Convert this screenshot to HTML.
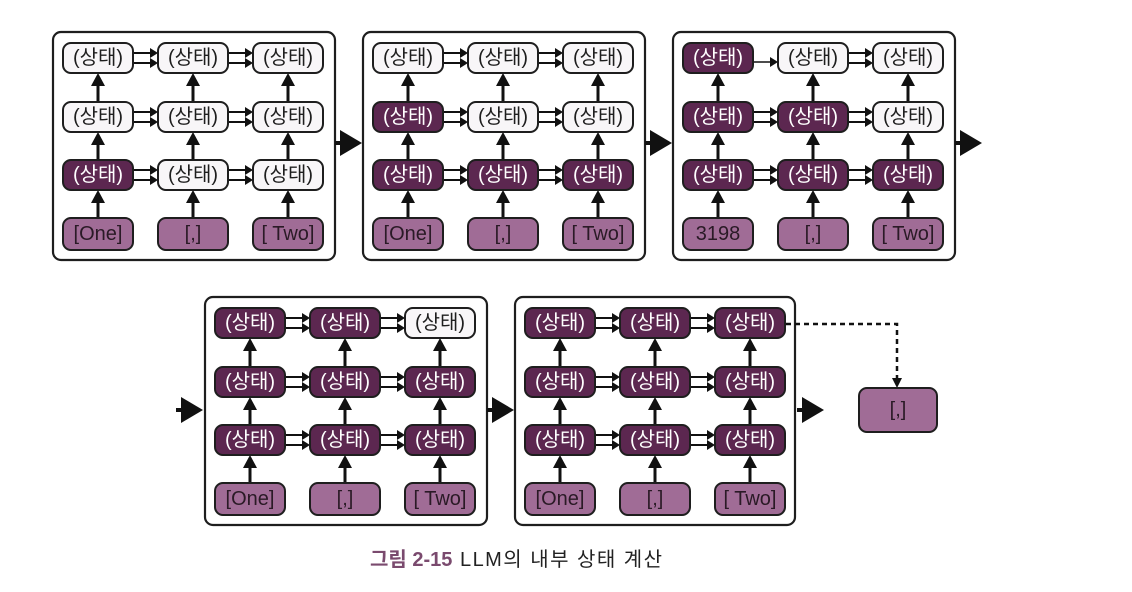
<!DOCTYPE html>
<html><head><meta charset="utf-8"><style>
html,body{margin:0;padding:0;background:#fff;}
svg{display:block;}
text{font-family:"Liberation Sans","Noto Sans CJK KR",sans-serif;}
.d{fill:#5c2750;stroke:#1e1e1e;stroke-width:2;}
.w{fill:#f8f6f8;stroke:#1e1e1e;stroke-width:2;}
.i{fill:#a06c96;stroke:#1e1e1e;stroke-width:2;}
.td{fill:#fff;font-size:20px;text-anchor:middle;dominant-baseline:central;}
.tw{fill:#1e1e1e;font-size:20px;text-anchor:middle;dominant-baseline:central;}
.ti{fill:#2a1a26;font-size:20px;text-anchor:middle;dominant-baseline:central;}
.pan{fill:#fff;stroke:#1e1e1e;stroke-width:2.2;}
</style></head><body>
<svg width="1132" height="592" viewBox="0 0 1132 592" xmlns="http://www.w3.org/2000/svg">
<defs>
<g id="v"><line x1="0" y1="29" x2="0" y2="10" stroke="#111" stroke-width="3"/><polygon points="-7,13 7,13 0,0" fill="#111"/></g>
<g id="h"><line x1="0" y1="-5" x2="20" y2="-5" stroke="#111" stroke-width="2"/><line x1="0" y1="5" x2="20" y2="5" stroke="#111" stroke-width="2"/><polygon points="17,-10 25,-5 17,0" fill="#111"/><polygon points="17,0 25,5 17,10" fill="#111"/></g>
<g id="hs"><line x1="0" y1="0" x2="18" y2="0" stroke="#111" stroke-width="1.6"/><polygon points="17,-5 25,0 17,5" fill="#111"/></g>
<g id="conn">
<use href="#v" x="45" y="41"/><use href="#v" x="140" y="41"/><use href="#v" x="235" y="41"/>
<use href="#v" x="45" y="100"/><use href="#v" x="140" y="100"/><use href="#v" x="235" y="100"/>
<use href="#v" x="45" y="158"/><use href="#v" x="140" y="158"/><use href="#v" x="235" y="158"/>
<use href="#h" x="80" y="85"/><use href="#h" x="175" y="85"/>
<use href="#h" x="80" y="143"/><use href="#h" x="175" y="143"/>
</g>
<g id="big"><line x1="0" y1="0" x2="8" y2="0" stroke="#111" stroke-width="4"/><polygon points="5,-13 27,0 5,13" fill="#111"/></g>
</defs>

<g transform="translate(53,32)">
<rect class="pan" x="0" y="0" width="282" height="228" rx="8"/>
<use href="#conn"/><use href="#h" x="80" y="26"/><use href="#h" x="175" y="26"/>
<rect class="w" x="10" y="11" width="70" height="30" rx="8"/><text class="tw" x="45" y="26">(상태)</text>
<rect class="w" x="105" y="11" width="70" height="30" rx="8"/><text class="tw" x="140" y="26">(상태)</text>
<rect class="w" x="200" y="11" width="70" height="30" rx="8"/><text class="tw" x="235" y="26">(상태)</text>
<rect class="w" x="10" y="70" width="70" height="30" rx="8"/><text class="tw" x="45" y="85">(상태)</text>
<rect class="w" x="105" y="70" width="70" height="30" rx="8"/><text class="tw" x="140" y="85">(상태)</text>
<rect class="w" x="200" y="70" width="70" height="30" rx="8"/><text class="tw" x="235" y="85">(상태)</text>
<rect class="d" x="10" y="128" width="70" height="30" rx="8"/><text class="td" x="45" y="143">(상태)</text>
<rect class="w" x="105" y="128" width="70" height="30" rx="8"/><text class="tw" x="140" y="143">(상태)</text>
<rect class="w" x="200" y="128" width="70" height="30" rx="8"/><text class="tw" x="235" y="143">(상태)</text>
<rect class="i" x="10" y="186" width="70" height="32" rx="8"/><text class="ti" x="45" y="202">[One]</text>
<rect class="i" x="105" y="186" width="70" height="32" rx="8"/><text class="ti" x="140" y="202">[,]</text>
<rect class="i" x="200" y="186" width="70" height="32" rx="8"/><text class="ti" x="235" y="202">[ Two]</text>
</g>

<g transform="translate(363,32)">
<rect class="pan" x="0" y="0" width="282" height="228" rx="8"/>
<use href="#conn"/><use href="#h" x="80" y="26"/><use href="#h" x="175" y="26"/>
<rect class="w" x="10" y="11" width="70" height="30" rx="8"/><text class="tw" x="45" y="26">(상태)</text>
<rect class="w" x="105" y="11" width="70" height="30" rx="8"/><text class="tw" x="140" y="26">(상태)</text>
<rect class="w" x="200" y="11" width="70" height="30" rx="8"/><text class="tw" x="235" y="26">(상태)</text>
<rect class="d" x="10" y="70" width="70" height="30" rx="8"/><text class="td" x="45" y="85">(상태)</text>
<rect class="w" x="105" y="70" width="70" height="30" rx="8"/><text class="tw" x="140" y="85">(상태)</text>
<rect class="w" x="200" y="70" width="70" height="30" rx="8"/><text class="tw" x="235" y="85">(상태)</text>
<rect class="d" x="10" y="128" width="70" height="30" rx="8"/><text class="td" x="45" y="143">(상태)</text>
<rect class="d" x="105" y="128" width="70" height="30" rx="8"/><text class="td" x="140" y="143">(상태)</text>
<rect class="d" x="200" y="128" width="70" height="30" rx="8"/><text class="td" x="235" y="143">(상태)</text>
<rect class="i" x="10" y="186" width="70" height="32" rx="8"/><text class="ti" x="45" y="202">[One]</text>
<rect class="i" x="105" y="186" width="70" height="32" rx="8"/><text class="ti" x="140" y="202">[,]</text>
<rect class="i" x="200" y="186" width="70" height="32" rx="8"/><text class="ti" x="235" y="202">[ Two]</text>
</g>

<g transform="translate(673,32)">
<rect class="pan" x="0" y="0" width="282" height="228" rx="8"/>
<use href="#conn"/><use href="#hs" x="80" y="30"/><use href="#h" x="175" y="26"/>
<rect class="d" x="10" y="11" width="70" height="30" rx="8"/><text class="td" x="45" y="26">(상태)</text>
<rect class="w" x="105" y="11" width="70" height="30" rx="8"/><text class="tw" x="140" y="26">(상태)</text>
<rect class="w" x="200" y="11" width="70" height="30" rx="8"/><text class="tw" x="235" y="26">(상태)</text>
<rect class="d" x="10" y="70" width="70" height="30" rx="8"/><text class="td" x="45" y="85">(상태)</text>
<rect class="d" x="105" y="70" width="70" height="30" rx="8"/><text class="td" x="140" y="85">(상태)</text>
<rect class="w" x="200" y="70" width="70" height="30" rx="8"/><text class="tw" x="235" y="85">(상태)</text>
<rect class="d" x="10" y="128" width="70" height="30" rx="8"/><text class="td" x="45" y="143">(상태)</text>
<rect class="d" x="105" y="128" width="70" height="30" rx="8"/><text class="td" x="140" y="143">(상태)</text>
<rect class="d" x="200" y="128" width="70" height="30" rx="8"/><text class="td" x="235" y="143">(상태)</text>
<rect class="i" x="10" y="186" width="70" height="32" rx="8"/><text class="ti" x="45" y="202">3198</text>
<rect class="i" x="105" y="186" width="70" height="32" rx="8"/><text class="ti" x="140" y="202">[,]</text>
<rect class="i" x="200" y="186" width="70" height="32" rx="8"/><text class="ti" x="235" y="202">[ Two]</text>
</g>

<g transform="translate(205,297)">
<rect class="pan" x="0" y="0" width="282" height="228" rx="8"/>
<use href="#conn"/><use href="#h" x="80" y="26"/><use href="#h" x="175" y="26"/>
<rect class="d" x="10" y="11" width="70" height="30" rx="8"/><text class="td" x="45" y="26">(상태)</text>
<rect class="d" x="105" y="11" width="70" height="30" rx="8"/><text class="td" x="140" y="26">(상태)</text>
<rect class="w" x="200" y="11" width="70" height="30" rx="8"/><text class="tw" x="235" y="26">(상태)</text>
<rect class="d" x="10" y="70" width="70" height="30" rx="8"/><text class="td" x="45" y="85">(상태)</text>
<rect class="d" x="105" y="70" width="70" height="30" rx="8"/><text class="td" x="140" y="85">(상태)</text>
<rect class="d" x="200" y="70" width="70" height="30" rx="8"/><text class="td" x="235" y="85">(상태)</text>
<rect class="d" x="10" y="128" width="70" height="30" rx="8"/><text class="td" x="45" y="143">(상태)</text>
<rect class="d" x="105" y="128" width="70" height="30" rx="8"/><text class="td" x="140" y="143">(상태)</text>
<rect class="d" x="200" y="128" width="70" height="30" rx="8"/><text class="td" x="235" y="143">(상태)</text>
<rect class="i" x="10" y="186" width="70" height="32" rx="8"/><text class="ti" x="45" y="202">[One]</text>
<rect class="i" x="105" y="186" width="70" height="32" rx="8"/><text class="ti" x="140" y="202">[,]</text>
<rect class="i" x="200" y="186" width="70" height="32" rx="8"/><text class="ti" x="235" y="202">[ Two]</text>
</g>

<g transform="translate(515,297)">
<rect class="pan" x="0" y="0" width="280" height="228" rx="8"/>
<use href="#conn"/><use href="#h" x="80" y="26"/><use href="#h" x="175" y="26"/>
<rect class="d" x="10" y="11" width="70" height="30" rx="8"/><text class="td" x="45" y="26">(상태)</text>
<rect class="d" x="105" y="11" width="70" height="30" rx="8"/><text class="td" x="140" y="26">(상태)</text>
<rect class="d" x="200" y="11" width="70" height="30" rx="8"/><text class="td" x="235" y="26">(상태)</text>
<rect class="d" x="10" y="70" width="70" height="30" rx="8"/><text class="td" x="45" y="85">(상태)</text>
<rect class="d" x="105" y="70" width="70" height="30" rx="8"/><text class="td" x="140" y="85">(상태)</text>
<rect class="d" x="200" y="70" width="70" height="30" rx="8"/><text class="td" x="235" y="85">(상태)</text>
<rect class="d" x="10" y="128" width="70" height="30" rx="8"/><text class="td" x="45" y="143">(상태)</text>
<rect class="d" x="105" y="128" width="70" height="30" rx="8"/><text class="td" x="140" y="143">(상태)</text>
<rect class="d" x="200" y="128" width="70" height="30" rx="8"/><text class="td" x="235" y="143">(상태)</text>
<rect class="i" x="10" y="186" width="70" height="32" rx="8"/><text class="ti" x="45" y="202">[One]</text>
<rect class="i" x="105" y="186" width="70" height="32" rx="8"/><text class="ti" x="140" y="202">[,]</text>
<rect class="i" x="200" y="186" width="70" height="32" rx="8"/><text class="ti" x="235" y="202">[ Two]</text>
</g>

<use href="#big" x="335" y="143"/>
<use href="#big" x="645" y="143"/>
<use href="#big" x="955" y="143"/>
<use href="#big" x="176" y="410"/>
<use href="#big" x="487" y="410"/>
<use href="#big" x="797" y="410"/>

<path d="M786,324 H897 V380" fill="none" stroke="#111" stroke-width="2.5" stroke-dasharray="5,4"/>
<polygon points="892,378 902,378 897,388" fill="#111"/>
<rect class="i" x="859" y="388" width="78" height="44" rx="8"/>
<text class="ti" x="898" y="410">[,]</text>

<text x="370" y="566" font-size="20" fill="#7a4a6e" font-weight="bold">그림 2-15</text>
<text x="460" y="566" font-size="20" fill="#222" textLength="202" lengthAdjust="spacing">LLM의 내부 상태 계산</text>
</svg>
</body></html>
